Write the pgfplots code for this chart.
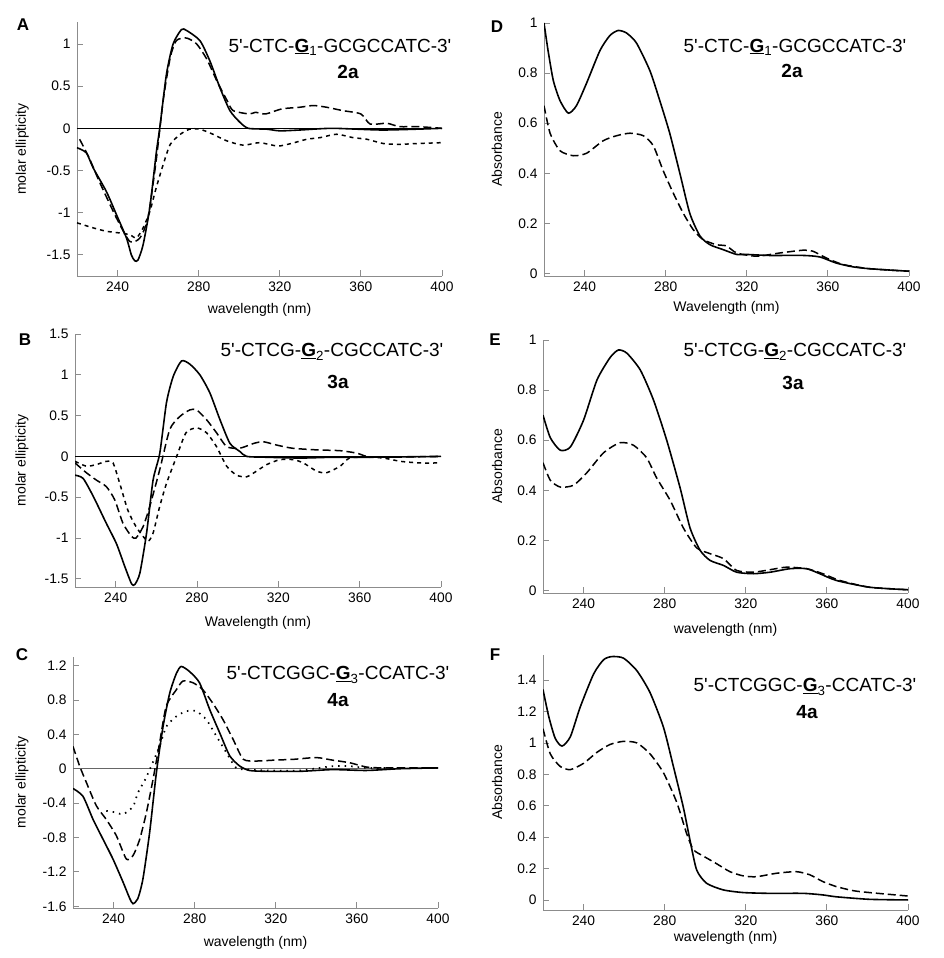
\documentclass[border=0pt]{standalone}
\usepackage{pgfplots}
\pgfplotsset{compat=1.18}
\usepackage{fontspec}
\setmainfont{Liberation Sans}[Ligatures=TeXOff]
\newcommand{\tl}{\fontsize{13.8}{15}\selectfont}
\newcommand{\lb}{\fontsize{14}{16}\selectfont}
\newcommand{\ttl}{\fontsize{19}{21}\selectfont}
\newcommand{\pl}{\fontsize{17}{19}\selectfont\bfseries}
\pgfplotsset{
  myax/.style={scale only axis, width=365pt, xmin=220, xmax=400,
    axis x line=bottom, axis y line=left,
    axis line style={draw=black!45, -, line width=0.8pt},
    tick style={draw=black!45, line width=0.8pt},
    major tick length=6pt, tick align=inside,
    xtick={240,280,320,360,400},
    xticklabels={240,280,320,360,400},
    ticklabel style={font=\tl},
    xticklabel style={yshift=-2pt},
    yticklabel style={xshift=-3pt},
    label style={font=\lb},
    xlabel style={at={(axis description cs:0.5,0)}, anchor=center, yshift=-34pt},
    clip=true},
  sol/.style={black, line width=1.6pt, smooth, tension=0.4},
  ld/.style={black, line width=1.5pt, dash pattern=on 8pt off 4pt, smooth, tension=0.4},
  sd/.style={black, line width=1.5pt, dash pattern=on 4pt off 4pt, smooth, tension=0.4},
  dt/.style={black, line width=1.7pt, dash pattern=on 1.5pt off 5pt, smooth, tension=0.4},
  zl/.style={black, line width=0.7pt},
}
\newcommand{\seq}[3]{5'-#1-\underline{\textbf{G}}\textsubscript{#2}-#3-3'}
\begin{document}
\begin{tikzpicture}
\useasboundingbox (0,0) rectangle (944pt,958pt);
% ---------------- A
\begin{axis}[myax, at={(77pt,682pt)}, anchor=south west, height=254pt,
  ymin=-1.75, ymax=1.26, ytick={-1.5,-1,-0.5,0,0.5,1},
  yticklabels={-1.5,-1,-0.5,0,0.5,1},
  xlabel={wavelength (nm)}, ylabel={molar ellipticity},
  ylabel style={at={(axis description cs:-0.15,0.5)}, anchor=center}]
\addplot[zl] coordinates {(220,0) (400,0)};
\addplot[sol] coordinates {(220,-0.23) (224.6,-0.29) (228,-0.47) (234.5,-0.75) (239.4,-1.02) (244.4,-1.30) (246.8,-1.5) (248.5,-1.57) (250.1,-1.56) (252.6,-1.38) (255.9,-0.94) (259.2,-0.27) (260.8,0.0) (264.1,0.64) (267.4,1.0) (271.5,1.17) (274,1.16) (280.6,1.04) (285.5,0.80) (290.5,0.48) (295.4,0.21) (300.4,0.07) (304.5,0.0) (313.5,-0.01) (320,-0.03) (330,-0.02) (346,0) (371,-0.02) (400,0)};
\addplot[ld] coordinates {(221.3,-0.13) (226,-0.35) (231,-0.63) (239.4,-1.06) (246,-1.34) (251,-1.3) (255,-1.06) (259,-0.39) (262.5,0.33) (266,0.84) (269,1.04) (274,1.07) (279,1.0) (284,0.82) (289,0.56) (294,0.33) (297,0.21) (305,0.17) (308,0.19) (313,0.17) (321,0.23) (330,0.25) (336.6,0.27) (343,0.25) (351,0.21) (360,0.17) (364.6,0.05) (372.8,0.06) (379,0.02) (388,0.02) (400,0)};
\addplot[sd] coordinates {(220,-1.12) (228,-1.18) (234.5,-1.22) (241,-1.24) (246,-1.26) (249.3,-1.3) (252.6,-1.18) (256,-0.98) (259,-0.71) (262.5,-0.43) (266,-0.19) (271,-0.07) (275.6,-0.01) (280.6,-0.01) (287,-0.07) (294,-0.15) (302,-0.2) (310,-0.17) (319,-0.21) (325.6,-0.18) (333.3,-0.13) (340,-0.11) (348,-0.07) (356,-0.11) (363,-0.13) (371,-0.18) (379,-0.19) (387.6,-0.18) (400,-0.17)};
\end{axis}
% ---------------- B
\begin{axis}[myax, at={(75pt,371pt)}, anchor=south west, height=253pt, width=366pt,
  ymin=-1.6, ymax=1.5, ytick={-1.5,-1,-0.5,0,0.5,1,1.5},
  yticklabels={-1.5,-1,-0.5,0,0.5,1,1.5},
  xlabel={Wavelength (nm)}, ylabel={molar ellipticity},
  xlabel style={yshift=-2pt},
  ylabel style={at={(axis description cs:-0.145,0.5)}, anchor=center}]
\addplot[zl] coordinates {(220,0) (400,0)};
\addplot[sol] coordinates {(220,-0.23) (224,-0.27) (229,-0.49) (235.4,-0.82) (240.4,-1.07) (244.5,-1.35) (247.8,-1.56) (249.4,-1.57) (251.9,-1.43) (255.2,-0.94) (258.4,-0.29) (261.7,0.04) (265,0.66) (268.3,0.98) (272.4,1.17) (276.5,1.13) (281.4,1.0) (286.3,0.78) (291.3,0.45) (296.2,0.16) (301.1,0.06) (304.4,0) (314,-0.01) (331,-0.02) (347,-0.01) (363.5,-0.01) (400,0)};
\addplot[ld] coordinates {(220,-0.08) (225.6,-0.2) (230.5,-0.29) (235.4,-0.37) (239.5,-0.53) (243.6,-0.82) (247.8,-0.98) (250,-1.0) (253.5,-0.86) (256.8,-0.61) (261.7,-0.16) (266.6,0.33) (271.6,0.49) (276.5,0.57) (279.8,0.57) (284.7,0.45) (289.6,0.29) (294.6,0.12) (301,0.1) (308,0.16) (312.6,0.18) (319,0.14) (327,0.1) (339,0.08) (350.4,0.07) (358.6,0.04) (363.5,0) (371.7,-0.01) (400,0)};
\addplot[sd] coordinates {(220,-0.06) (225.6,-0.12) (230.5,-0.1) (235.4,-0.06) (238.7,-0.08) (242,-0.33) (246,-0.66) (250,-0.86) (253.5,-0.98) (256,-1.04) (258.4,-0.94) (261.7,-0.61) (265,-0.33) (270,0) (274.6,0.29) (279.8,0.35) (284.7,0.29) (289.6,0.12) (294.6,-0.12) (299.5,-0.23) (304.4,-0.25) (309.3,-0.18) (314.3,-0.1) (320.8,-0.04) (327.4,-0.04) (332.3,-0.08) (338.8,-0.18) (343.7,-0.2) (350.4,-0.12) (355,-0.02) (363.5,-0.01) (371.7,-0.02) (380,-0.06) (389.6,-0.08) (400,-0.08)};
\end{axis}
% ---------------- C
\begin{axis}[myax, at={(73pt,50pt)}, anchor=south west, height=251pt,
  ymin=-1.62, ymax=1.3, ytick={-1.6,-1.2,-0.8,-0.4,0,0.4,0.8,1.2},
  yticklabels={-1.6,-1.2,-0.8,-0.4,0,0.4,0.8,1.2},
  xlabel={wavelength (nm)}, ylabel={molar ellipticity},
  xlabel style={yshift=-1pt},
  ylabel style={at={(axis description cs:-0.14,0.5)}, anchor=center}]
\addplot[black!60, line width=0.8pt] coordinates {(220,0) (400,0)};
\addplot[sol] coordinates {(220,-0.23) (224.9,-0.32) (229.9,-0.59) (234.8,-0.82) (239.7,-1.05) (244.7,-1.32) (248,-1.51) (249.6,-1.57) (252,-1.51) (254.5,-1.28) (257.8,-0.74) (261.1,-0.05) (264.4,0.49) (267.7,0.88) (271,1.11) (273.4,1.19) (277.5,1.13) (282.4,1.0) (287.4,0.69) (292.3,0.42) (297.3,0.15) (302.3,0.03) (307,-0.02) (315.3,-0.03) (332,-0.03) (348,-0.01) (364.7,-0.02) (381,0) (400,0.01)};
\addplot[ld] coordinates {(220,0.26) (223.3,0.03) (226.6,-0.16) (231.5,-0.43) (236.4,-0.59) (241.4,-0.78) (246.3,-1.05) (249.6,-1.01) (252.9,-0.82) (256.2,-0.51) (259.5,-0.12) (262.7,0.3) (266,0.73) (271,0.92) (274.2,1.02) (279.2,1.0) (284,0.92) (289,0.76) (294,0.57) (299,0.34) (304,0.11) (310.8,0.09) (319,0.1) (329,0.11) (340,0.13) (348,0.1) (356.4,0.07) (364.7,0.02) (373,0.01) (400,0.01)};
\addplot[dt] coordinates {(236.4,-0.49) (241.4,-0.51) (244.7,-0.53) (249.6,-0.44) (252,-0.28) (255.5,-0.13) (258,0.0) (262.7,0.26) (266,0.49) (271,0.61) (275.9,0.67) (280.8,0.67) (285.8,0.57) (290.7,0.38) (295.6,0.19) (300.5,0.01) (307,-0.01) (315,-0.02) (331.8,-0.02) (348,0.03) (356.4,0.03) (364.7,0.01) (381,0.01) (400,0.01)};
\end{axis}
% ---------------- D
\begin{axis}[myax, at={(544pt,682pt)}, anchor=south west, height=253pt,
  ymin=-0.01, ymax=1.0, ytick={0,0.2,0.4,0.6,0.8,1},
  yticklabels={0,0.2,0.4,0.6,0.8,1},
  xlabel={Wavelength (nm)}, ylabel={Absorbance},
  xlabel style={yshift=2pt},
  ylabel style={at={(axis description cs:-0.129,0.5)}, anchor=center}]
\addplot[sol] coordinates {(220,1.0) (222,0.89) (224.6,0.77) (227.9,0.69) (232,0.64) (236,0.67) (241,0.76) (247.6,0.89) (252.5,0.95) (256.6,0.97) (260.7,0.96) (265.6,0.92) (272.2,0.81) (277.1,0.69) (282,0.56) (287,0.4) (291.9,0.24) (296.9,0.15) (301.8,0.115) (308.4,0.095) (315,0.076) (320,0.076) (331,0.072) (347.8,0.072) (356,0.066) (364,0.042) (372,0.027) (380.6,0.019) (400,0.009)};
\addplot[ld] coordinates {(220,0.67) (223,0.56) (227.9,0.49) (234.5,0.47) (241,0.48) (249.2,0.53) (255.8,0.55) (262.4,0.56) (269,0.55) (273.9,0.51) (278.8,0.41) (283.8,0.32) (288.7,0.24) (293.6,0.175) (298.5,0.135) (305,0.115) (310,0.11) (315,0.082) (324.8,0.069) (336.4,0.082) (347.8,0.093) (352.6,0.089) (359.2,0.062) (367.4,0.036) (380.6,0.019) (400,0.009)};
\end{axis}
% ---------------- E
\begin{axis}[myax, at={(543pt,365pt)}, anchor=south west, height=253pt,
  ymin=-0.01, ymax=1.0, ytick={0,0.2,0.4,0.6,0.8,1},
  yticklabels={0,0.2,0.4,0.6,0.8,1},
  xlabel={wavelength (nm)}, ylabel={Absorbance},
  xlabel style={yshift=-3pt},
  ylabel style={at={(axis description cs:-0.126,0.5)}, anchor=center}]
\addplot[sol] coordinates {(220,0.70) (223.6,0.61) (228.5,0.56) (233.5,0.573) (240,0.68) (246.6,0.84) (253.1,0.93) (257.2,0.96) (261.4,0.947) (268,0.88) (274.5,0.76) (281,0.6) (287.6,0.41) (292.5,0.25) (297.5,0.16) (302.4,0.12) (309,0.1) (315.5,0.073) (323.7,0.067) (332,0.073) (341.8,0.087) (350,0.087) (356.5,0.067) (364.7,0.04) (381,0.013) (400,0.003)};
\addplot[ld] coordinates {(220,0.51) (223.6,0.44) (228.5,0.413) (235,0.42) (241.6,0.47) (249.9,0.55) (258,0.59) (264.6,0.58) (271.1,0.53) (276,0.45) (282.7,0.36) (289.2,0.25) (295.8,0.17) (302.4,0.147) (309,0.127) (315.5,0.08) (323.7,0.073) (332,0.083) (340,0.093) (350,0.087) (358,0.067) (366.4,0.04) (381,0.013) (400,0.003)};
\end{axis}
% ---------------- F
\begin{axis}[myax, at={(543pt,48pt)}, anchor=south west, height=255pt,
  ymin=-0.064, ymax=1.56, ytick={0,0.2,0.4,0.6,0.8,1,1.2,1.4},
  yticklabels={0,0.2,0.4,0.6,0.8,1,1.2,1.4},
  xlabel={wavelength (nm)}, ylabel={Absorbance},
  xlabel style={yshift=6pt},
  ylabel style={at={(axis description cs:-0.126,0.5)}, anchor=center}]
\addplot[sol] coordinates {(220,1.34) (222.8,1.17) (226,1.03) (229.4,0.98) (233.5,1.04) (238.4,1.23) (245,1.44) (249.9,1.53) (254,1.55) (259.7,1.54) (266.3,1.46) (272.8,1.32) (279.4,1.1) (284.3,0.85) (289.2,0.59) (292.5,0.38) (295.8,0.19) (300.7,0.106) (308.9,0.064) (318.8,0.047) (331.9,0.042) (348.3,0.042) (358,0.032) (364.7,0.02) (381,0.004) (400,0.0)};
\addplot[ld] coordinates {(220,1.09) (223.6,0.93) (228.5,0.85) (233.5,0.83) (240,0.87) (246.6,0.94) (253,0.99) (259.7,1.01) (266.3,1.0) (272.8,0.93) (279.4,0.81) (286,0.62) (290.9,0.42) (294.2,0.32) (299,0.28) (305.7,0.23) (312.2,0.18) (318.8,0.153) (325.3,0.148) (335.2,0.17) (345,0.18) (351.6,0.16) (358,0.117) (364.7,0.085) (373,0.059) (381,0.047) (400,0.025)};
\end{axis}
% ---------------- annotations
\node[font=\ttl] at (340pt,911pt) {\seq{CTC}{1}{GCGCCATC}};
\node[font=\ttl\bfseries] at (348pt,886pt) {2a};
\node[font=\ttl] at (795pt,911pt) {\seq{CTC}{1}{GCGCCATC}};
\node[font=\ttl\bfseries] at (792pt,887pt) {2a};
\node[font=\ttl] at (332pt,606pt) {\seq{CTCG}{2}{CGCCATC}};
\node[font=\ttl\bfseries] at (338pt,576pt) {3a};
\node[font=\ttl] at (795pt,606pt) {\seq{CTCG}{2}{CGCCATC}};
\node[font=\ttl\bfseries] at (793pt,575pt) {3a};
\node[font=\ttl] at (338pt,283pt) {\seq{CTCGGC}{3}{CCATC}};
\node[font=\ttl\bfseries] at (338pt,258pt) {4a};
\node[font=\ttl] at (805pt,271pt) {\seq{CTCGGC}{3}{CCATC}};
\node[font=\ttl\bfseries] at (807pt,246pt) {4a};
\node[font=\pl] at (23pt,933pt) {A};
\node[font=\pl] at (497pt,931pt) {D};
\node[font=\pl] at (25pt,618pt) {B};
\node[font=\pl] at (495pt,618pt) {E};
\node[font=\pl] at (22pt,303pt) {C};
\node[font=\pl] at (495pt,303pt) {F};
\end{tikzpicture}
\end{document}
